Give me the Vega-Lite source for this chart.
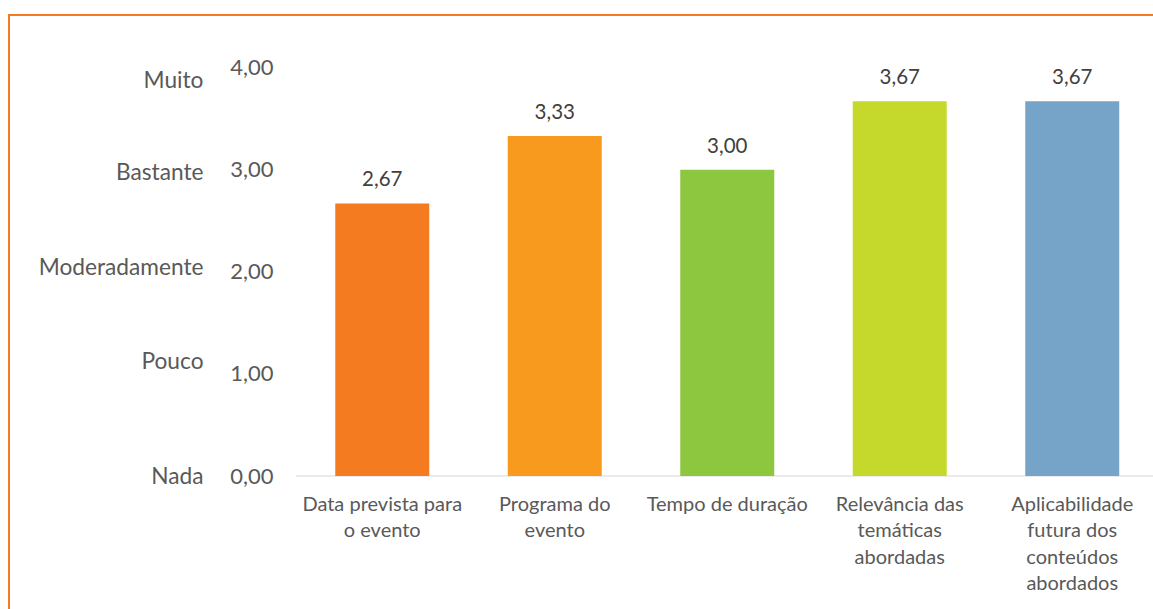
{
  "$schema": "https://vega.github.io/schema/vega-lite/v6.json",
  "width": 1146,
  "height": 596,
  "autosize": {"type": "none"},
  "padding": {"left": 9, "top": 15, "right": -2, "bottom": -2},
  "background": "white",
  "config": {
    "view": {"stroke": "#F47B20", "strokeWidth": 2},
    "font": "Lato",
    "locale": {"number": {"decimal": ",", "thousands": ".", "grouping": [3], "currency": ["", " €"]}}
  },
  "datasets": {
    "avaliacao": [
      {"item": "Data prevista para o evento", "media": 2.67},
      {"item": "Programa do evento", "media": 3.33},
      {"item": "Tempo de duração", "media": 3.00},
      {"item": "Relevância das temáticas abordadas", "media": 3.67},
      {"item": "Aplicabilidade futura dos conteúdos abordados", "media": 3.67}
    ],
    "niveis": [
      {"nivel": "Nada", "pos": 0},
      {"nivel": "Pouco", "pos": 1.126},
      {"nivel": "Moderadamente", "pos": 2.047},
      {"nivel": "Bastante", "pos": 2.977},
      {"nivel": "Muito", "pos": 3.878}
    ]
  },
  "layer": [
    {
      "data": {"name": "avaliacao"},
      "encoding": {
        "x": {
          "field": "item",
          "type": "nominal",
          "sort": null,
          "scale": {"range": [287, 1149.5], "paddingInner": 0.4551, "paddingOuter": 0.2276, "align": 0.5},
          "axis": {
            "orient": "bottom",
            "offset": -135,
            "title": null,
            "domain": false,
            "ticks": false,
            "tickSize": 0,
            "labelAngle": 0,
            "labelPadding": 18,
            "labelFontSize": 20,
            "labelColor": "#595959",
            "labelLineHeight": 26.5,
            "labelBaseline": "top",
            "labelLimit": 400,
            "labelExpr": "datum.value == 'Data prevista para o evento' ? ['Data prevista para', 'o evento'] : datum.value == 'Programa do evento' ? ['Programa do', 'evento'] : datum.value == 'Relevância das temáticas abordadas' ? ['Relevância das', 'temáticas', 'abordadas'] : datum.value == 'Aplicabilidade futura dos conteúdos abordados' ? ['Aplicabilidade', 'futura dos', 'conteúdos', 'abordados'] : datum.value"
          }
        },
        "y": {
          "type": "quantitative",
          "scale": {"domain": [-1.322, 4.515], "nice": false, "zero": false},
          "axis": {
            "orient": "left",
            "offset": -264,
            "title": null,
            "domain": false,
            "ticks": false,
            "tickSize": 0,
            "grid": false,
            "values": [0, 1, 2, 3, 4],
            "format": ".2f",
            "labelPadding": 0,
            "labelFontSize": 22,
            "labelColor": "#595959"
          }
        }
      },
      "layer": [
        {
          "mark": {"type": "tick", "size": 173, "thickness": 1.5, "color": "#D9D9D9"},
          "encoding": {"y": {"datum": 0, "type": "quantitative"}}
        },
        {
          "mark": {"type": "bar"},
          "encoding": {
            "y": {"field": "media", "type": "quantitative"},
            "y2": {"datum": 0},
            "color": {
              "field": "item",
              "type": "nominal",
              "sort": null,
              "scale": {"range": ["#F47B20", "#F89A1E", "#8DC63F", "#C5D92D", "#75A4C8"]},
              "legend": null
            }
          }
        },
        {
          "mark": {"type": "text", "fontSize": 20.5, "color": "#404040", "baseline": "middle", "dy": -23},
          "encoding": {
            "y": {"field": "media", "type": "quantitative"},
            "text": {"field": "media", "type": "quantitative", "format": ".2f"}
          }
        }
      ]
    },
    {
      "data": {"name": "niveis"},
      "mark": {"type": "text", "opacity": 0},
      "encoding": {
        "y": {
          "field": "pos",
          "type": "quantitative",
          "scale": {"domain": [-1.322, 4.515], "nice": false, "zero": false},
          "axis": {
            "orient": "left",
            "offset": -194,
            "title": null,
            "domain": false,
            "ticks": false,
            "tickSize": 0,
            "grid": false,
            "values": [0, 1.126, 2.047, 2.977, 3.878],
            "labelPadding": 0,
            "labelFontSize": 22.7,
            "labelColor": "#595959",
            "labelExpr": "datum.value < 0.5 ? 'Nada' : datum.value < 1.5 ? 'Pouco' : datum.value < 2.5 ? 'Moderadamente' : datum.value < 3.5 ? 'Bastante' : 'Muito'"
          }
        },
        "text": {"field": "nivel", "type": "nominal"}
      }
    }
  ],
  "resolve": {"scale": {"y": "independent"}}
}
